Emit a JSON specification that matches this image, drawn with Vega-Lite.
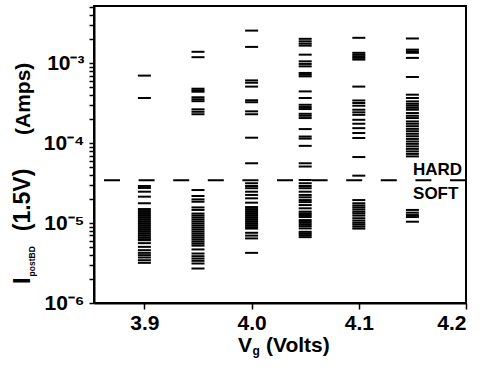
{
  "$schema": "https://vega.github.io/schema/vega-lite/v6.json",
  "width": 372,
  "height": 297,
  "autosize": "none",
  "padding": {"left": 94, "top": 6, "right": 18, "bottom": 68},
  "config": {
    "view": {"stroke": "black", "strokeWidth": 2},
    "font": "Liberation Sans",
    "axis": {"grid": false, "domain": true, "ticks": true, "domainColor": "black", "domainWidth": 2, "tickColor": "black", "tickWidth": 1.5, "labelColor": "black", "labelFontWeight": "bold"}
  },
  "datasets": {
    "pts": [
      {"vg": 3.9, "i": 7.0e-4}, {"vg": 3.9, "i": 3.67e-4},
      {"vg": 3.9, "i": 2.91e-5}, {"vg": 3.9, "i": 2.75e-5}, {"vg": 3.9, "i": 2.47e-5}, {"vg": 3.9, "i": 2.14e-5}, {"vg": 3.9, "i": 1.77e-5},
      {"vg": 3.9, "i": 1.498e-5}, {"vg": 3.9, "i": 1.414e-5}, {"vg": 3.9, "i": 1.335e-5}, {"vg": 3.9, "i": 1.26e-5}, {"vg": 3.9, "i": 1.189e-5},
      {"vg": 3.9, "i": 1.122e-5}, {"vg": 3.9, "i": 1.059e-5}, {"vg": 3.9, "i": 1.0e-5}, {"vg": 3.9, "i": 9.44e-6}, {"vg": 3.9, "i": 8.91e-6},
      {"vg": 3.9, "i": 8.41e-6}, {"vg": 3.9, "i": 7.94e-6}, {"vg": 3.9, "i": 7.49e-6}, {"vg": 3.9, "i": 7.07e-6}, {"vg": 3.9, "i": 6.67e-6},
      {"vg": 3.9, "i": 6.3e-6}, {"vg": 3.9, "i": 6.1e-6}, {"vg": 3.9, "i": 5.61e-6}, {"vg": 3.9, "i": 5.04e-6}, {"vg": 3.9, "i": 4.58e-6},
      {"vg": 3.9, "i": 4.24e-6}, {"vg": 3.9, "i": 3.97e-6}, {"vg": 3.9, "i": 3.71e-6}, {"vg": 3.9, "i": 3.43e-6}, {"vg": 3.9, "i": 3.18e-6},

      {"vg": 3.95, "i": 1.39e-3}, {"vg": 3.95, "i": 1.19e-3}, {"vg": 3.95, "i": 4.8e-4}, {"vg": 3.95, "i": 4.59e-4}, {"vg": 3.95, "i": 4.4e-4},
      {"vg": 3.95, "i": 3.75e-4}, {"vg": 3.95, "i": 3.54e-4}, {"vg": 3.95, "i": 3.35e-4}, {"vg": 3.95, "i": 2.65e-4}, {"vg": 3.95, "i": 2.47e-4}, {"vg": 3.95, "i": 2.3e-4},
      {"vg": 3.95, "i": 2.59e-5}, {"vg": 3.95, "i": 2.18e-5}, {"vg": 3.95, "i": 1.98e-5}, {"vg": 3.95, "i": 1.85e-5}, {"vg": 3.95, "i": 1.57e-5},
      {"vg": 3.95, "i": 1.46e-5}, {"vg": 3.95, "i": 1.316e-5}, {"vg": 3.95, "i": 1.242e-5}, {"vg": 3.95, "i": 1.172e-5}, {"vg": 3.95, "i": 1.106e-5},
      {"vg": 3.95, "i": 1.044e-5}, {"vg": 3.95, "i": 9.86e-6}, {"vg": 3.95, "i": 9.3e-6}, {"vg": 3.95, "i": 8.78e-6}, {"vg": 3.95, "i": 8.29e-6},
      {"vg": 3.95, "i": 7.82e-6}, {"vg": 3.95, "i": 7.38e-6}, {"vg": 3.95, "i": 6.97e-6}, {"vg": 3.95, "i": 6.58e-6}, {"vg": 3.95, "i": 6.21e-6},
      {"vg": 3.95, "i": 5.86e-6}, {"vg": 3.95, "i": 5.53e-6}, {"vg": 3.95, "i": 5.22e-6}, {"vg": 3.95, "i": 4.68e-6}, {"vg": 3.95, "i": 4.16e-6},
      {"vg": 3.95, "i": 3.85e-6}, {"vg": 3.95, "i": 3.6e-6}, {"vg": 3.95, "i": 3.37e-6}, {"vg": 3.95, "i": 3.12e-6}, {"vg": 3.95, "i": 2.7e-6},

      {"vg": 4.0, "i": 2.56e-3}, {"vg": 4.0, "i": 1.6e-3}, {"vg": 4.0, "i": 6.1e-4}, {"vg": 4.0, "i": 5.7e-4}, {"vg": 4.0, "i": 5.1e-4},
      {"vg": 4.0, "i": 3.44e-4}, {"vg": 4.0, "i": 3.25e-4}, {"vg": 4.0, "i": 2.5e-4}, {"vg": 4.0, "i": 2.3e-4}, {"vg": 4.0, "i": 1.17e-4}, {"vg": 4.0, "i": 5.6e-5},
      {"vg": 4.0, "i": 3.15e-5}, {"vg": 4.0, "i": 2.91e-5}, {"vg": 4.0, "i": 2.73e-5}, {"vg": 4.0, "i": 2.47e-5}, {"vg": 4.0, "i": 2.25e-5},
      {"vg": 4.0, "i": 2.04e-5}, {"vg": 4.0, "i": 1.8e-5}, {"vg": 4.0, "i": 1.587e-5}, {"vg": 4.0, "i": 1.498e-5}, {"vg": 4.0, "i": 1.414e-5},
      {"vg": 4.0, "i": 1.335e-5}, {"vg": 4.0, "i": 1.26e-5}, {"vg": 4.0, "i": 1.189e-5}, {"vg": 4.0, "i": 1.122e-5}, {"vg": 4.0, "i": 1.059e-5},
      {"vg": 4.0, "i": 1.0e-5}, {"vg": 4.0, "i": 9.44e-6}, {"vg": 4.0, "i": 8.91e-6}, {"vg": 4.0, "i": 8.53e-6}, {"vg": 4.0, "i": 7.56e-6},
      {"vg": 4.0, "i": 6.97e-6}, {"vg": 4.0, "i": 6.43e-6}, {"vg": 4.0, "i": 4.24e-6},

      {"vg": 4.05, "i": 2.02e-3}, {"vg": 4.05, "i": 1.88e-3}, {"vg": 4.05, "i": 1.76e-3}, {"vg": 4.05, "i": 1.66e-3}, {"vg": 4.05, "i": 1.28e-3},
      {"vg": 4.05, "i": 1.056e-3}, {"vg": 4.05, "i": 9.8e-4}, {"vg": 4.05, "i": 9.14e-4}, {"vg": 4.05, "i": 7.56e-4}, {"vg": 4.05, "i": 7.19e-4},
      {"vg": 4.05, "i": 6.85e-4}, {"vg": 4.05, "i": 4.44e-4}, {"vg": 4.05, "i": 3.67e-4}, {"vg": 4.05, "i": 3.02e-4}, {"vg": 4.05, "i": 2.83e-4},
      {"vg": 4.05, "i": 2.67e-4}, {"vg": 4.05, "i": 2.33e-4}, {"vg": 4.05, "i": 2.2e-4}, {"vg": 4.05, "i": 2.06e-4}, {"vg": 4.05, "i": 1.5e-4},
      {"vg": 4.05, "i": 1.21e-4}, {"vg": 4.05, "i": 1.14e-4}, {"vg": 4.05, "i": 9.25e-5}, {"vg": 4.05, "i": 5.6e-5}, {"vg": 4.05, "i": 5.1e-5},
      {"vg": 4.05, "i": 3.46e-5}, {"vg": 4.05, "i": 3.15e-5}, {"vg": 4.05, "i": 2.91e-5}, {"vg": 4.05, "i": 2.73e-5}, {"vg": 4.05, "i": 2.47e-5},
      {"vg": 4.05, "i": 2.25e-5}, {"vg": 4.05, "i": 2.1e-5}, {"vg": 4.05, "i": 1.94e-5}, {"vg": 4.05, "i": 1.83e-5}, {"vg": 4.05, "i": 1.68e-5},
      {"vg": 4.05, "i": 1.53e-5}, {"vg": 4.05, "i": 1.39e-5}, {"vg": 4.05, "i": 1.32e-5}, {"vg": 4.05, "i": 1.26e-5}, {"vg": 4.05, "i": 1.19e-5},
      {"vg": 4.05, "i": 1.09e-5}, {"vg": 4.05, "i": 1.03e-5}, {"vg": 4.05, "i": 9.71e-6}, {"vg": 4.05, "i": 9.17e-6}, {"vg": 4.05, "i": 8.58e-6},
      {"vg": 4.05, "i": 7.78e-6}, {"vg": 4.05, "i": 7.43e-6}, {"vg": 4.05, "i": 7.07e-6}, {"vg": 4.05, "i": 6.67e-6},

      {"vg": 4.1, "i": 2.08e-3}, {"vg": 4.1, "i": 1.35e-3}, {"vg": 4.1, "i": 1.28e-3}, {"vg": 4.1, "i": 1.22e-3}, {"vg": 4.1, "i": 1.166e-3},
      {"vg": 4.1, "i": 1.11e-3}, {"vg": 4.1, "i": 5.1e-4}, {"vg": 4.1, "i": 3.42e-4}, {"vg": 4.1, "i": 3.18e-4}, {"vg": 4.1, "i": 2.94e-4},
      {"vg": 4.1, "i": 2.62e-4}, {"vg": 4.1, "i": 2.43e-4}, {"vg": 4.1, "i": 2.26e-4}, {"vg": 4.1, "i": 1.96e-4}, {"vg": 4.1, "i": 1.75e-4},
      {"vg": 4.1, "i": 1.54e-4}, {"vg": 4.1, "i": 1.34e-4}, {"vg": 4.1, "i": 1.16e-4}, {"vg": 4.1, "i": 6.7e-5}, {"vg": 4.1, "i": 3.92e-5},
      {"vg": 4.1, "i": 1.94e-5}, {"vg": 4.1, "i": 1.77e-5}, {"vg": 4.1, "i": 1.66e-5}, {"vg": 4.1, "i": 1.57e-5}, {"vg": 4.1, "i": 1.48e-5},
      {"vg": 4.1, "i": 1.39e-5}, {"vg": 4.1, "i": 1.32e-5}, {"vg": 4.1, "i": 1.24e-5}, {"vg": 4.1, "i": 1.15e-5}, {"vg": 4.1, "i": 1.075e-5},
      {"vg": 4.1, "i": 1.01e-5}, {"vg": 4.1, "i": 9.58e-6}, {"vg": 4.1, "i": 9.04e-6}, {"vg": 4.1, "i": 8.53e-6},

      {"vg": 4.15, "i": 2.04e-3}, {"vg": 4.15, "i": 1.48e-3}, {"vg": 4.15, "i": 1.41e-3}, {"vg": 4.15, "i": 1.35e-3}, {"vg": 4.15, "i": 1.166e-3},
      {"vg": 4.15, "i": 6.73e-4}, {"vg": 4.15, "i": 4.04e-4}, {"vg": 4.15, "i": 3.67e-4}, {"vg": 4.15, "i": 3.33e-4}, {"vg": 4.15, "i": 3.11e-4},
      {"vg": 4.15, "i": 2.94e-4}, {"vg": 4.15, "i": 2.77e-4}, {"vg": 4.15, "i": 2.62e-4}, {"vg": 4.15, "i": 2.38e-4}, {"vg": 4.15, "i": 2.2e-4},
      {"vg": 4.15, "i": 2.06e-4}, {"vg": 4.15, "i": 1.87e-4}, {"vg": 4.15, "i": 1.75e-4}, {"vg": 4.15, "i": 1.63e-4}, {"vg": 4.15, "i": 1.51e-4},
      {"vg": 4.15, "i": 1.41e-4}, {"vg": 4.15, "i": 1.31e-4}, {"vg": 4.15, "i": 1.22e-4}, {"vg": 4.15, "i": 1.13e-4}, {"vg": 4.15, "i": 1.05e-4},
      {"vg": 4.15, "i": 9.8e-5}, {"vg": 4.15, "i": 9.12e-5}, {"vg": 4.15, "i": 8.48e-5}, {"vg": 4.15, "i": 7.89e-5}, {"vg": 4.15, "i": 7.34e-5},
      {"vg": 4.15, "i": 6.83e-5},
      {"vg": 4.15, "i": 1.46e-5}, {"vg": 4.15, "i": 1.35e-5}, {"vg": 4.15, "i": 1.26e-5}, {"vg": 4.15, "i": 1.19e-5}, {"vg": 4.15, "i": 1.04e-5}
    ],
    "one": [{}]
  },
  "layer": [
    {
      "data": {"name": "pts"},
      "mark": {"type": "tick", "orient": "horizontal", "size": 13, "thickness": 2, "color": "black", "opacity": 1},
      "encoding": {
        "x": {"field": "vg", "type": "quantitative",
          "scale": {"domain": [3.853, 4.2], "nice": false, "zero": false},
          "axis": {"orient": "bottom", "values": [3.9, 4.0, 4.1, 4.2], "format": ".1f", "title": null, "tickSize": 6, "labelFontSize": 21, "labelPadding": 3}},
        "y": {"field": "i", "type": "quantitative",
          "scale": {"type": "log", "domain": [1e-6, 5.2e-3], "nice": false},
          "axis": {"orient": "left", "title": null,
            "values": [1e-6, 2e-6, 3e-6, 4e-6, 5e-6, 6e-6, 7e-6, 8e-6, 9e-6, 1e-5, 2e-5, 3e-5, 4e-5, 5e-5, 6e-5, 7e-5, 8e-5, 9e-5, 1e-4, 2e-4, 3e-4, 4e-4, 5e-4, 6e-4, 7e-4, 8e-4, 9e-4, 1e-3, 2e-3, 3e-3, 4e-3, 5e-3],
            "labelExpr": "datum.value < 1.5e-6 ? '10⁻⁶' : (datum.value > 9.5e-6 && datum.value < 1.05e-5) ? '10⁻⁵' : (datum.value > 9.5e-5 && datum.value < 1.05e-4) ? '10⁻⁴' : (datum.value > 9.5e-4 && datum.value < 1.05e-3) ? '10⁻³' : ''",
            "tickSize": 5, "labelFontSize": 21, "labelPadding": 5}}
      }
    },
    {
      "data": {"name": "one"},
      "mark": {"type": "rule", "strokeDash": [16, 18.6], "strokeWidth": 2, "color": "black"},
      "encoding": {"y": {"datum": 3.43e-5, "type": "quantitative"}}
    },
    {
      "data": {"name": "one"},
      "mark": {"type": "text", "text": "HARD", "fontSize": 17, "fontWeight": "bold", "align": "left", "baseline": "alphabetic", "color": "black"},
      "encoding": {
        "x": {"datum": 4.1506, "type": "quantitative"},
        "y": {"datum": 3.995e-5, "type": "quantitative"}
      }
    },
    {
      "data": {"name": "one"},
      "mark": {"type": "text", "text": "SOFT", "fontSize": 17, "fontWeight": "bold", "align": "left", "baseline": "alphabetic", "color": "black"},
      "encoding": {
        "x": {"datum": 4.1506, "type": "quantitative"},
        "y": {"datum": 2.0e-5, "type": "quantitative"}
      }
    },
    {
      "data": {"name": "one"},
      "mark": {"type": "text", "text": "V", "fontSize": 21, "fontWeight": "bold", "align": "left", "baseline": "alphabetic", "color": "black"},
      "encoding": {
        "x": {"datum": 3.9873, "type": "quantitative"},
        "y": {"datum": 2.44e-7, "type": "quantitative"}
      }
    },
    {
      "data": {"name": "one"},
      "mark": {"type": "text", "text": "g", "fontSize": 12, "fontWeight": "bold", "align": "left", "baseline": "alphabetic", "color": "black"},
      "encoding": {
        "x": {"datum": 4.0009, "type": "quantitative"},
        "y": {"datum": 2.235e-7, "type": "quantitative"}
      }
    },
    {
      "data": {"name": "one"},
      "mark": {"type": "text", "text": "(Volts)", "fontSize": 21, "fontWeight": "bold", "align": "left", "baseline": "alphabetic", "color": "black"},
      "encoding": {
        "x": {"datum": 4.0134, "type": "quantitative"},
        "y": {"datum": 2.44e-7, "type": "quantitative"}
      }
    },
    {
      "data": {"name": "one"},
      "mark": {"type": "text", "text": "I", "fontSize": 24, "fontWeight": "bold", "align": "left", "baseline": "alphabetic", "angle": 270, "color": "black"},
      "encoding": {
        "x": {"datum": 3.7933, "type": "quantitative"},
        "y": {"datum": 1.73e-6, "type": "quantitative"}
      }
    },
    {
      "data": {"name": "one"},
      "mark": {"type": "text", "text": "postBD", "fontSize": 8.5, "fontWeight": "bold", "align": "left", "baseline": "alphabetic", "angle": 270, "color": "black"},
      "encoding": {
        "x": {"datum": 3.798, "type": "quantitative"},
        "y": {"datum": 2.15e-6, "type": "quantitative"}
      }
    },
    {
      "data": {"name": "one"},
      "mark": {"type": "text", "text": "(1.5V)", "fontSize": 23, "fontWeight": "bold", "align": "left", "baseline": "alphabetic", "angle": 270, "color": "black"},
      "encoding": {
        "x": {"datum": 3.7933, "type": "quantitative"},
        "y": {"datum": 7.9e-6, "type": "quantitative"}
      }
    },
    {
      "data": {"name": "one"},
      "mark": {"type": "text", "text": "(Amps)", "fontSize": 21, "fontWeight": "bold", "align": "left", "baseline": "alphabetic", "angle": 270, "color": "black"},
      "encoding": {
        "x": {"datum": 3.7933, "type": "quantitative"},
        "y": {"datum": 1.265e-4, "type": "quantitative"}
      }
    }
  ]
}
